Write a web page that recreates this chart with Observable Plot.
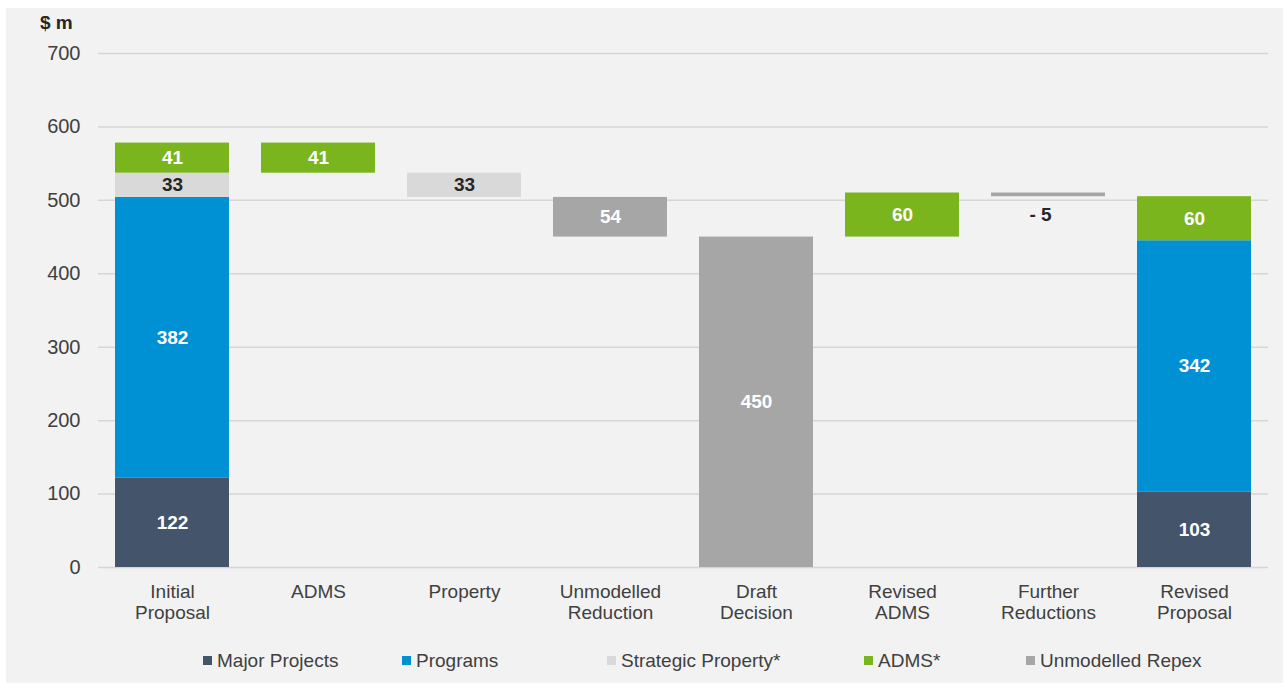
<!DOCTYPE html>
<html>
<head>
<meta charset="utf-8">
<script src="https://cdn.jsdelivr.net/npm/d3@7"></script>
<script src="https://cdn.jsdelivr.net/npm/@observablehq/plot@0.6"></script>
<style>
  html, body { margin: 0; padding: 0; background: #ffffff; }
  body { width: 1288px; height: 686px; position: relative; overflow: hidden;
         font-family: "Liberation Sans", Arial, sans-serif; }
  #frame { position: absolute; left: 6px; top: 8px; width: 1277px; height: 675px; background: #f2f2f2; }
  #chart { position: absolute; left: 0; top: 0; }
  #unit { position: absolute; left: 40px; top: 12px; font-size: 19px; font-weight: bold; color: #262626; }
  .leg { position: absolute; top: 650px; font-size: 19px; color: #404040; white-space: nowrap; line-height: 22px; }
  .leg i { display: inline-block; width: 9px; height: 9px; margin-right: 5px; vertical-align: 2px; }
</style>
</head>
<body>
<div id="frame"></div>
<div id="chart"></div>
<div id="unit">$ m</div>
<div id="legend"></div>
<script>
// ---- Data ----
const categories = ["Initial Proposal", "ADMS", "Property", "Unmodelled Reduction",
                    "Draft Decision", "Revised ADMS", "Further Reductions", "Revised Proposal"];
const series = ["Major Projects", "Programs", "Strategic Property*", "ADMS*", "Unmodelled Repex"];
const seriesColors = ["#44546A", "#0091D5", "#D9D9D9", "#7AB51D", "#A6A6A6"];
const yTicks = [0, 100, 200, 300, 400, 500, 600, 700];

// Stacked totals (Major Projects, Programs, Strategic Property*, ADMS*)
const initialProposal = [122, 382, 33, 41];
const revisedProposal = [103, 342, 0, 60];
const draftDecision = 450; // Unmodelled Repex total

// Waterfall steps
const stepCategories = ["ADMS", "Property", "Unmodelled Reduction", "Revised ADMS", "Further Reductions"];
const stepSeries = ["ADMS*", "Strategic Property*", "Unmodelled Repex", "ADMS*", "Unmodelled Repex"];
const stepValues = [-41, -33, -54, 60, -5];
const stepLabels = ["41", "33", "54", "60", "- 5"];

// Legend positions (left px) for the legend items
const legendLeft = [203, 402, 607, 864, 1026];

// ---- Build segments ----
const colorOf = s => seriesColors[series.indexOf(s)];
const segments = [];
function pushStack(cat, vals) {
  let base = 0;
  vals.forEach((v, i) => {
    if (v > 0) {
      segments.push({category: cat, series: series[i], y1: base, y2: base + v, label: String(v),
                     inside: true});
      base += v;
    }
  });
  return base;
}
let level = pushStack("Initial Proposal", initialProposal);
stepCategories.forEach((cat, i) => {
  if (cat === "Revised ADMS") {
    segments.push({category: "Draft Decision", series: "Unmodelled Repex", y1: 0, y2: draftDecision,
                   label: String(draftDecision), inside: true});
    level = draftDecision;
  }
  const v = stepValues[i];
  const lo = Math.min(level, level + v), hi = Math.max(level, level + v);
  segments.push({category: cat, series: stepSeries[i], y1: lo, y2: hi, label: stepLabels[i],
                 inside: Math.abs(v) >= 20});
  level += v;
});
pushStack("Revised Proposal", revisedProposal);

const inside = segments.filter(d => d.inside);
const outside = segments.filter(d => !d.inside);

const chart = Plot.plot({
  width: 1288,
  height: 640,
  marginTop: 53,
  marginBottom: 73,
  marginLeft: 98,
  marginRight: 20,
  style: {background: "transparent", fontFamily: "Liberation Sans, Arial, sans-serif", color: "#404040"},
  x: {domain: categories, paddingInner: 0.22, paddingOuter: 0.11, axis: null},
  y: {domain: [0, 700], axis: null},
  marks: [
    Plot.gridY(yTicks, {stroke: "#d6d6d6", strokeOpacity: 1, strokeWidth: 1.5}),
    Plot.axisY(yTicks, {tickSize: 0, tickPadding: 18, fontSize: 20, label: null, fill: "#404040"}),
    Plot.barY(segments, {x: "category", y1: "y1", y2: "y2", fill: d => colorOf(d.series)}),
    Plot.text(inside, {
      x: "category", y: d => (d.y1 + d.y2) / 2, text: "label",
      fill: d => d.series === "Strategic Property*" ? "#262626" : "#ffffff",
      fontWeight: "bold", fontSize: 19
    }),
    Plot.text(outside, {
      x: "category", y: "y1", text: "label", dy: 18, dx: -8,
      fill: "#262626", fontWeight: "bold", fontSize: 19
    }),
    Plot.text(categories, {
      x: d => d, frameAnchor: "bottom", lineAnchor: "top", dy: 16,
      text: d => d.replace(" ", "\n"), lineHeight: 1.1, fontSize: 19, fill: "#404040"
    })
  ]
});
document.getElementById("chart").appendChild(chart);

const legend = document.getElementById("legend");
series.forEach((s, i) => {
  const el = document.createElement("div");
  el.className = "leg";
  el.style.left = legendLeft[i] + "px";
  el.innerHTML = `<i style="background:${seriesColors[i]}"></i>`;
  el.appendChild(document.createTextNode(s));
  legend.appendChild(el);
});
</script>
</body>
</html>
